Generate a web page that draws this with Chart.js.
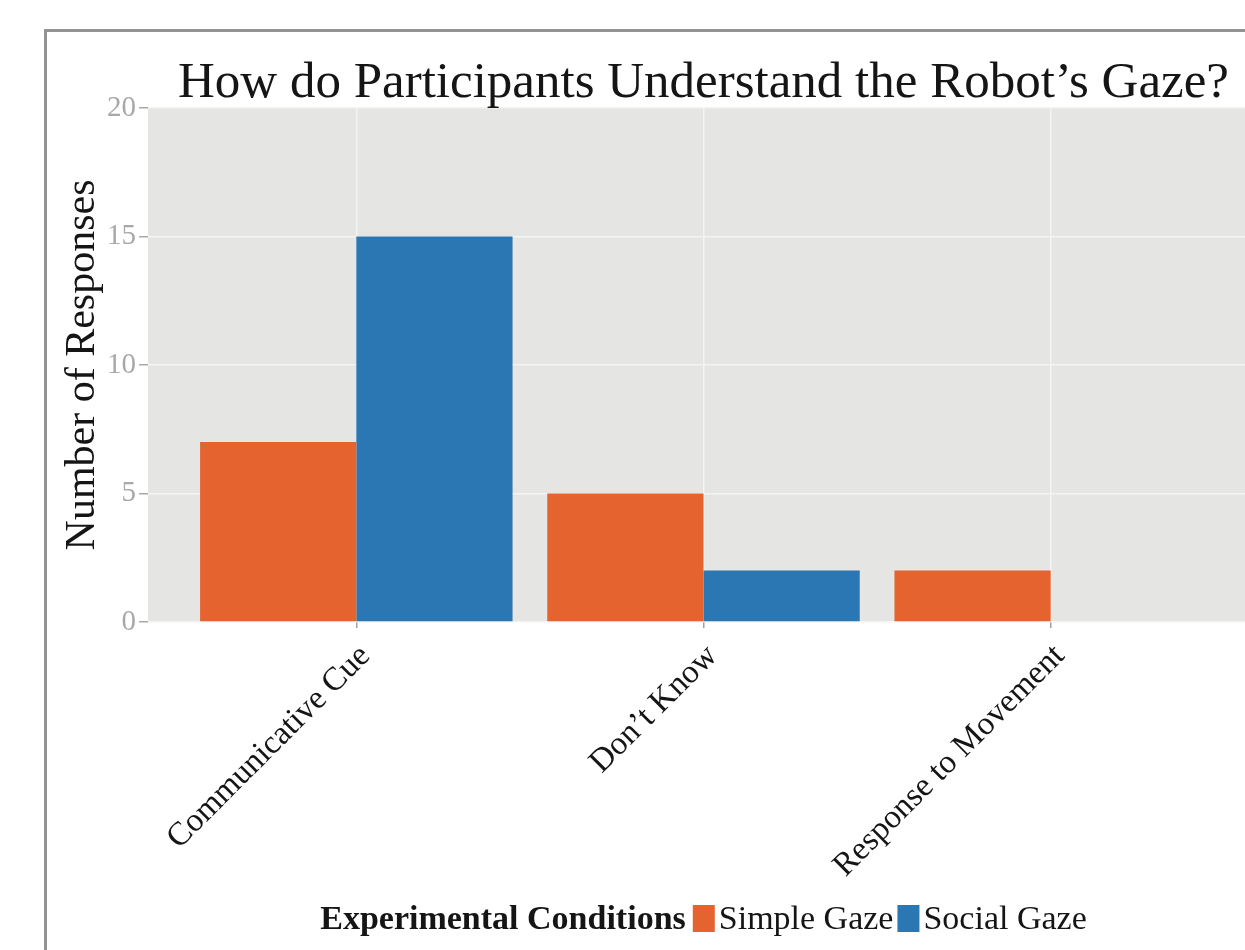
<!DOCTYPE html>
<html>
<head>
<meta charset="utf-8">
<script src="https://cdn.jsdelivr.net/npm/chart.js@4.4.1/dist/chart.umd.min.js"></script>
<style>
  html, body { margin: 0; padding: 0; background: #ffffff; overflow: hidden; width: 1245px; height: 950px; }
  #frame { position: absolute; left: 44px; top: 29px; width: 2000px; height: 2000px;
           border-left: 3px solid #939393; border-top: 3px solid #939393; }
  #wrap { position: absolute; left: 0; top: 0; width: 1406px; height: 950px; }
</style>
</head>
<body>
<div id="frame"></div>
<div id="wrap"><canvas id="c" width="1406" height="950"></canvas></div>
<script>
// ---- data ----
const categories = ['Communicative Cue', 'Don\u2019t Know', 'Response to Movement'];
const categoryPositions = [1, 2, 3];
const seriesNames = ['Simple Gaze', 'Social Gaze'];
const simpleGaze = [7, 5, 2];
const socialGaze = [15, 2, 0];
const yTickValues = [0, 5, 10, 15, 20];
const chartTitle = 'How do Participants Understand the Robot\u2019s Gaze?';
const yAxisTitle = 'Number of Responses';
const legendTitle = 'Experimental Conditions';

const ORANGE = '#e4632f';
const BLUE = '#2b77b4';
const SERIF = '"Liberation Serif", "Times New Roman", serif';

const panelBg = {
  id: 'panelBg',
  afterLayout(chart) {
    // centre the title over the plotting panel
    if (chart.titleBlock) {
      chart.titleBlock.left = chart.chartArea.left;
      chart.titleBlock.right = chart.chartArea.right;
    }
  },
  beforeDraw(chart) {
    const { ctx, chartArea: a } = chart;
    ctx.save();
    ctx.fillStyle = '#e5e5e3';
    ctx.fillRect(a.left, a.top, a.right - a.left, a.bottom - a.top);
    ctx.restore();
  }
};

const inlineLegend = {
  id: 'inlineLegend',
  afterDraw(chart) {
    const { ctx, chartArea: a } = chart;
    ctx.save();
    const bold = 'bold 34px ' + SERIF;
    const reg = '34px ' + SERIF;
    ctx.font = bold;
    const tw = ctx.measureText(legendTitle).width;
    ctx.font = reg;
    const items = chart.data.datasets.map(d => ({ label: d.label, color: d.backgroundColor, w: ctx.measureText(d.label).width }));
    const box = 22, gapTitle = 7, gapText = 4, gapItem = 4;
    let total = tw;
    items.forEach((it, i) => { total += (i === 0 ? gapTitle : gapItem) + box + gapText + it.w; });
    let x = (a.left + a.right) / 2 - total / 2;
    const baseline = 929;
    ctx.textBaseline = 'alphabetic';
    ctx.textAlign = 'left';
    ctx.fillStyle = '#151515';
    ctx.font = bold;
    ctx.fillText(legendTitle, x, baseline);
    x += tw;
    ctx.font = reg;
    items.forEach((it, i) => {
      x += (i === 0 ? gapTitle : gapItem);
      ctx.fillStyle = it.color;
      ctx.fillRect(x, baseline - 24, box, 27);
      x += box + gapText;
      ctx.fillStyle = '#151515';
      ctx.fillText(it.label, x, baseline);
      x += it.w;
    });
    ctx.restore();
  }
};

new Chart(document.getElementById('c'), {
  type: 'bar',
  data: {
    datasets: [
      { label: seriesNames[0], data: simpleGaze.map((v, i) => ({ x: categoryPositions[i], y: v })), backgroundColor: ORANGE, borderWidth: 0 },
      { label: seriesNames[1], data: socialGaze.map((v, i) => ({ x: categoryPositions[i], y: v })), backgroundColor: BLUE, borderWidth: 0 }
    ]
  },
  options: {
    responsive: false,
    animation: false,
    devicePixelRatio: 1,
    layout: { padding: { left: 55, right: 147, top: 0, bottom: 0 } },
    datasets: { bar: { categoryPercentage: 0.9, barPercentage: 1.0 } },
    plugins: {
      legend: { display: false },
      tooltip: { enabled: false },
      title: {
        display: true,
        text: chartTitle,
        color: '#151515',
        font: { family: SERIF, size: 51, weight: 'normal', lineHeight: 0.9 },
        padding: { top: 61, bottom: 1 }
      }
    },
    scales: {
      x: {
        type: 'linear',
        min: 0.4,
        max: 3.6,
        offset: false,
        afterBuildTicks(scale) { scale.ticks = categoryPositions.map(v => ({ value: v })); },
        afterFit(scale) { scale.height = 328; },
        grid: { offset: false, color: '#f4f4f2', lineWidth: 1.5, drawTicks: true, tickLength: 6, tickColor: '#a0a0a0' },
        border: { display: false },
        ticks: {
          autoSkip: false,
          minRotation: 45,
          maxRotation: 45,
          padding: 9,
          labelOffset: 9,
          color: '#151515',
          font: { family: SERIF, size: 33 },
          callback: (v) => categories[categoryPositions.indexOf(v)] || ''
        }
      },
      y: {
        min: 0,
        max: 20,
        afterBuildTicks(scale) { scale.ticks = yTickValues.map(v => ({ value: v })); },
        afterFit(scale) { scale.width = 93; },
        grid: { color: '#f4f4f2', lineWidth: 1.5, drawTicks: true, tickLength: 9, tickColor: '#a8a8a8' },
        border: { display: false },
        ticks: { color: '#a8a8a8', padding: 3, font: { family: SERIF, size: 29 } },
        title: {
          display: true,
          text: yAxisTitle,
          color: '#151515',
          font: { family: SERIF, size: 42 },
          padding: { top: 3, bottom: 0 }
        }
      }
    }
  },
  plugins: [panelBg, inlineLegend]
});
</script>
</body>
</html>
